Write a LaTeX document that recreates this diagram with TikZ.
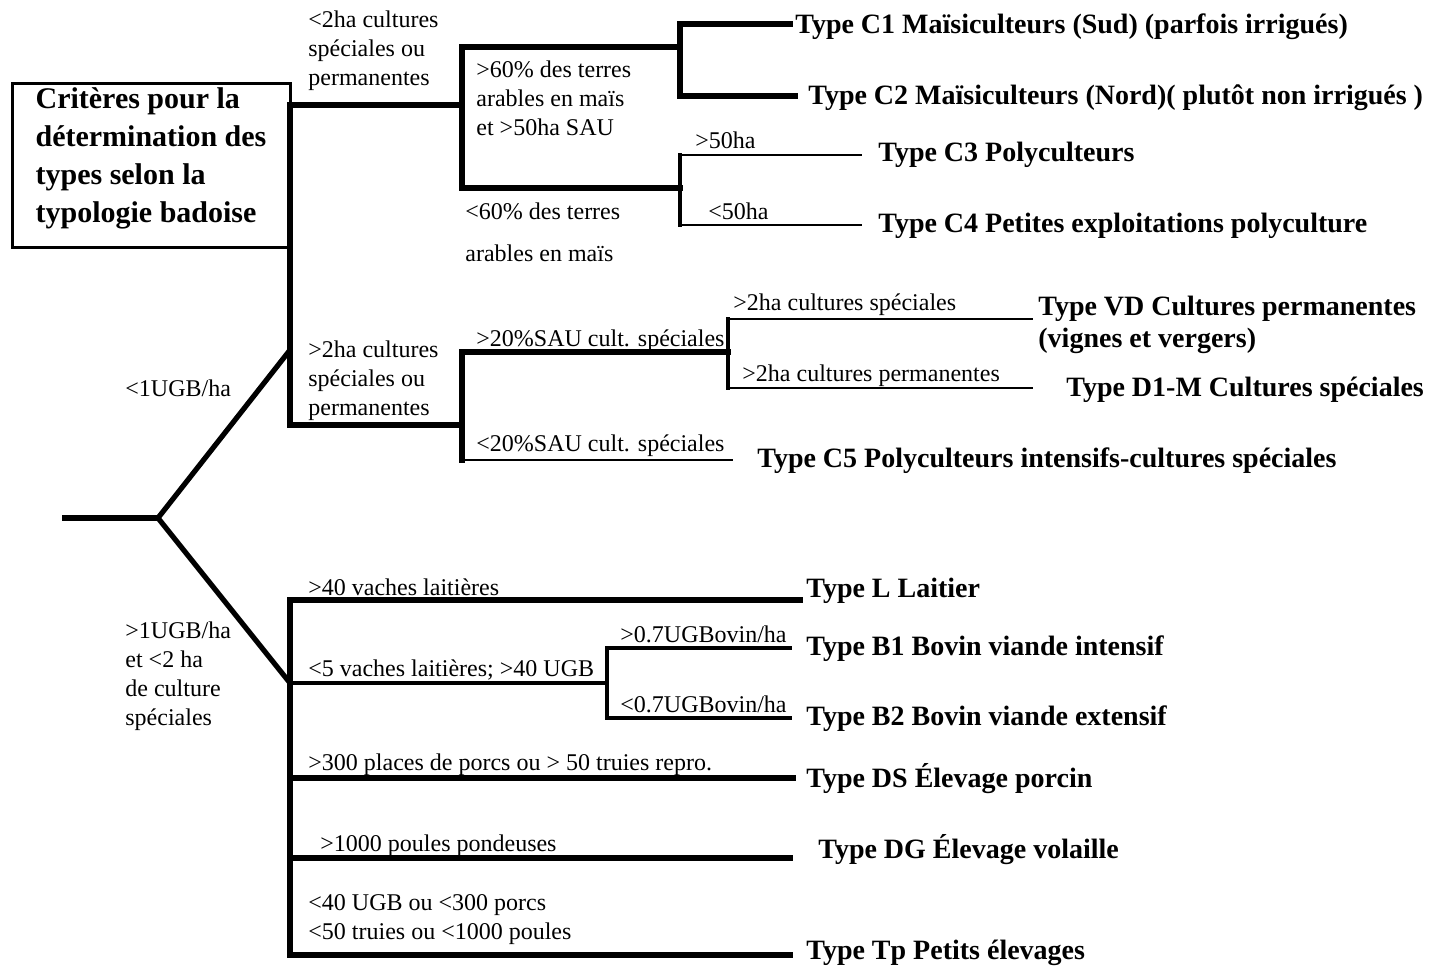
\documentclass[tikz,border=0pt]{standalone}
\usepackage{fontspec}
\setmainfont{Liberation Serif}
\usetikzlibrary{positioning}
\tikzset{
  trunkline/.style={line width=2.6pt,line cap=rect},
  midline/.style={line width=1.7pt,line cap=rect},
  thinline/.style={line width=0.9pt},
  titlebox/.style={draw,line width=1.5pt,align=left,minimum width=139pt,minimum height=82pt,
    inner xsep=4pt,inner ysep=1pt,font=\bfseries\fontsize{15}{19}\selectfont},
  typelabel/.style={anchor=west,inner sep=0pt,align=left,font=\bfseries\fontsize{14}{16}\selectfont},
  critlabel/.style={anchor=west,inner sep=0pt,align=left,font=\fontsize{12}{14.5}\selectfont}
}

\begin{document}
\begin{tikzpicture}[x=0.5pt,y=-0.5pt]
  \useasboundingbox (0,0) rectangle (1432,968);

  % title
  \node[titlebox] (criteria) at (151,166) {Critères pour la\\détermination des\\types selon la\\typologie badoise\rule[-10.5pt]{0pt}{1pt}};

  % main fork
  \coordinate (root) at (62,518);
  \coordinate (fork) at (158,518);
  \coordinate (crop) at (290,350);
  \coordinate (stock) at (290,683);
  \draw[line width=2.6pt] (root) -- (fork);
  \draw[line width=2.6pt] (crop) -- (fork) -- (stock);
  \node[critlabel] (lowUGB) at (125,388) {<1UGB/ha};
  \node[critlabel] (highUGB) at (125,676) {>1UGB/ha\\et <2 ha\\de culture\\spéciales};

  % crops
  \coordinate (cropTop) at (290,105);
  \coordinate (cropBot) at (290,425);
  \coordinate (maizeMid) at (462,105);
  \coordinate (specMid) at (462,425);
  \draw[trunkline] (maizeMid) -- (cropTop) -- (cropBot) -- (specMid);
  \node[critlabel] (fewSpec) at (308,51) {<2ha cultures\\spéciales ou\\permanentes};
  \node[critlabel] (manySpec) at (308,381) {>2ha cultures\\spéciales ou\\permanentes};

  \coordinate (maizeHi) at (462,47);
  \coordinate (maizeLo) at (462,188);
  \coordinate (mzFork) at (680,47);
  \coordinate (polyFork) at (680,188);
  \draw[trunkline] (mzFork) -- (maizeHi) -- (maizeLo) -- (polyFork);
  \node[critlabel] (maizeMore) at (476,98) {>60\% des terres\\arables en maïs\\et >50ha SAU};
  \node[critlabel] (maizeLess) at (465,232) {<60\% des terres\\[6.5pt]arables en maïs};

  \coordinate (c1Start) at (680,24);
  \coordinate (c2Start) at (680,96);
  \coordinate (c1End) at (790,24);
  \coordinate (c2End) at (795,96);
  \draw[trunkline] (c1End) -- (c1Start) -- (c2Start) -- (c2End);
  \node[typelabel] (typeC1) at (795,27) {Type C1 Maïsiculteurs (Sud) (parfois irrigués)};
  \node[typelabel] (typeC2) at (808,98) {Type C2 Maïsiculteurs (Nord)( plutôt non irrigués )};

  \coordinate (c3Start) at (680,155);
  \coordinate (c4Start) at (680,225);
  \coordinate (c3End) at (862,155);
  \coordinate (c4End) at (862,225);
  \draw[midline] (c3Start) -- (c4Start);
  \draw[thinline] (c3Start) -- (c3End);
  \draw[thinline] (c4Start) -- (c4End);
  \node[critlabel] (bigFarm) at (695,140) {>50ha};
  \node[critlabel] (smallFarm) at (708,211) {<50ha};
  \node[typelabel] (typeC3) at (878,155) {Type C3 Polyculteurs};
  \node[typelabel] (typeC4) at (878,226) {Type C4 Petites exploitations polyculture};

  % special crops
  \coordinate (specHi) at (462,352);
  \coordinate (specLo) at (462,460);
  \coordinate (permFork) at (728,352);
  \coordinate (c5End) at (733,460);
  \draw[trunkline] (permFork) -- (specHi) -- (specLo);
  \draw[thinline] (specLo) -- (c5End);
  \node[critlabel] (specMore) at (476,341) {>20\%SAU cult. spéciales};
  \node[critlabel] (specLess) at (476,446) {<20\%SAU cult. spéciales};
  \node[typelabel] (typeC5) at (757,461) {Type C5 Polyculteurs intensifs-cultures spéciales};

  \coordinate (vdStart) at (728,319);
  \coordinate (dmStart) at (728,388);
  \coordinate (vdEnd) at (1033,319);
  \coordinate (dmEnd) at (1033,388);
  \draw[midline] (vdStart) -- (dmStart);
  \draw[thinline] (vdStart) -- (vdEnd);
  \draw[thinline] (dmStart) -- (dmEnd);
  \node[critlabel] (specCult) at (733,305) {>2ha cultures spéciales};
  \node[critlabel] (permCult) at (742,376) {>2ha cultures permanentes};
  \node[typelabel] (typeVD) at (1038,325) {Type VD Cultures permanentes\\(vignes et vergers)};
  \node[typelabel] (typeDM) at (1066,390) {Type D1-M Cultures spéciales};

  % livestock
  \coordinate (lowTop) at (290,600);
  \coordinate (lowBot) at (290,955);
  \coordinate (lEnd) at (800,600);
  \coordinate (tpEnd) at (790,955);
  \draw[trunkline] (lEnd) -- (lowTop) -- (lowBot) -- (tpEnd);
  \node[critlabel] (dairy) at (308,587) {>40 vaches laitières};
  \node[typelabel] (typeL) at (806,591) {Type L Laitier};

  \coordinate (bovFork) at (607,683);
  \coordinate (b1Start) at (607,648);
  \coordinate (b2Start) at (607,718);
  \coordinate (b1End) at (790,648);
  \coordinate (b2End) at (790,718);
  \draw[midline] (stock) -- (bovFork);
  \draw[midline] (b1End) -- (b1Start) -- (b2Start) -- (b2End);
  \node[critlabel] (beef) at (308,670) {<5 vaches laitières; >40 UGB};
  \node[critlabel] (beefMore) at (620,634) {>0.7UGBovin/ha};
  \node[critlabel] (beefLess) at (620,704) {<0.7UGBovin/ha};
  \node[typelabel] (typeB1) at (806,649) {Type B1 Bovin viande intensif};
  \node[typelabel] (typeB2) at (806,719) {Type B2 Bovin viande extensif};

  \coordinate (dsStart) at (290,778);
  \coordinate (dsEnd) at (793,778);
  \coordinate (dgStart) at (290,858);
  \coordinate (dgEnd) at (790,858);
  \draw[trunkline] (dsStart) -- (dsEnd);
  \draw[trunkline] (dgStart) -- (dgEnd);
  \node[critlabel] (pigs) at (308,765) {>300 places de porcs ou > 50 truies repro.};
  \node[critlabel] (hens) at (320,846) {>1000 poules pondeuses};
  \node[critlabel] (smallStock) at (308,920) {<40 UGB ou <300 porcs\\<50 truies ou <1000 poules};
  \node[typelabel] (typeDS) at (806,779) {Type DS Élevage porcin};
  \node[typelabel] (typeDG) at (818,850) {Type DG Élevage volaille};
  \node[typelabel] (typeTp) at (806,953) {Type Tp Petits élevages};
\end{tikzpicture}
\end{document}
